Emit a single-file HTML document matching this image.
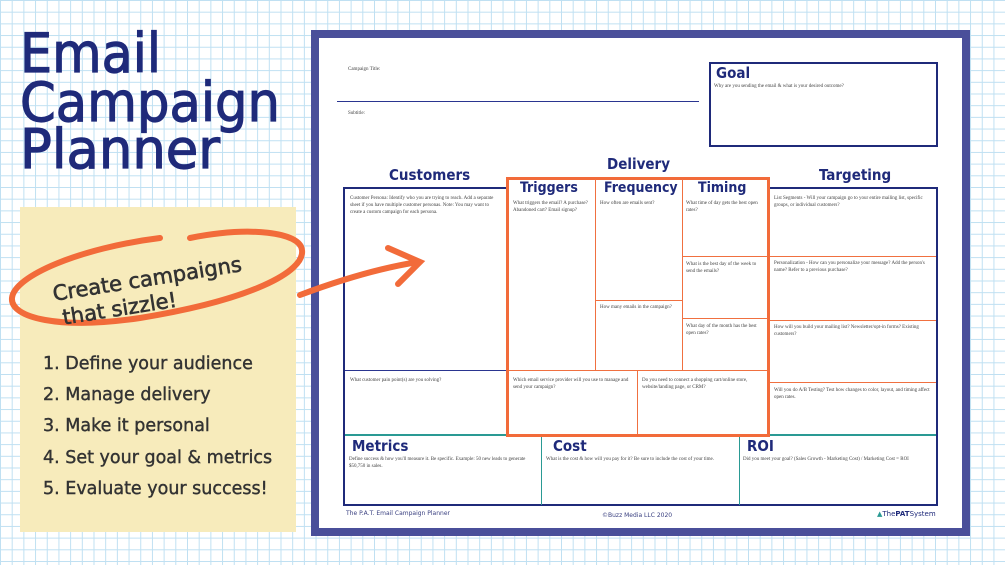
<!DOCTYPE html>
<html><head><meta charset="utf-8"><style>
*{margin:0;padding:0;box-sizing:border-box}
body{width:1005px;height:565px;position:relative;overflow:hidden;font-family:"DejaVu Sans","Liberation Sans",sans-serif;
background-color:#fff;
background-image:linear-gradient(#bfe0f2 1px,transparent 1px),linear-gradient(90deg,#bfe0f2 1px,transparent 1px);
background-size:11.7px 11.7px;}
.a{position:absolute}
.s{position:absolute;font-family:"Liberation Serif",serif;font-size:5px;color:#444;line-height:7px}
.h{position:absolute;font-weight:bold;color:#1f2a7a;font-family:"DejaVu Sans Condensed","DejaVu Sans",sans-serif}
.li{position:absolute;left:43px;font-size:17.5px;color:#333;white-space:nowrap;-webkit-text-stroke:0.4px #333}
</style></head><body>
<svg class="a" style="left:0;top:0" width="300" height="200">
<g fill="#1f2a7a" stroke="#1f2a7a" stroke-width="1.2" font-family="DejaVu Sans,sans-serif" font-size="54">
<text x="20" y="72" textLength="141" lengthAdjust="spacingAndGlyphs">Email</text>
<text x="20" y="121" textLength="260" lengthAdjust="spacingAndGlyphs">Campaign</text>
<text x="20" y="168" textLength="200" lengthAdjust="spacingAndGlyphs">Planner</text>
</g></svg>
<div class="a" style="left:20px;top:207px;width:276px;height:325px;background:#f7ebbb"></div>
<div class="li" style="top:354px">1. Define your audience</div>
<div class="li" style="top:385px">2. Manage delivery</div>
<div class="li" style="top:416px">3. Make it personal</div>
<div class="li" style="top:448px">4. Set your goal &amp; metrics</div>
<div class="li" style="top:479px">5. Evaluate your success!</div>

<div class="a" style="left:311px;top:30px;width:659px;height:506px;border:8px solid #4a4f9a;background:#fff"></div>
<div class="s" style="left:348px;top:66px">Campaign Title:</div>
<div class="a" style="left:337px;top:101px;width:362px;height:1px;background:#2a3590"></div>
<div class="s" style="left:348px;top:110px">Subtitle:</div>
<div class="a" style="left:709px;top:62px;width:229px;height:85px;border:2px solid #1f2a7a"></div>
<div class="h" style="left:716px;top:64px;font-size:15px">Goal</div>
<div class="s" style="left:714px;top:83px">Why are you sending the email &amp; what is your desired outcome?</div>

<div class="h" style="left:389px;top:166px;font-size:15px">Customers</div>
<div class="h" style="left:607px;top:155px;font-size:15px">Delivery</div>
<div class="h" style="left:819px;top:166px;font-size:15px">Targeting</div>

<div class="a" style="left:343px;top:187px;width:595px;height:319px;border:2px solid #1f2a7a"></div>
<div class="a" style="left:345px;top:370px;width:162px;height:1px;background:#2a3590"></div>
<div class="a" style="left:345px;top:434px;width:591px;height:2px;background:#2a9a94"></div>
<div class="a" style="left:541px;top:435px;width:1px;height:70px;background:#2a9a94"></div>
<div class="a" style="left:739px;top:435px;width:1px;height:70px;background:#2a9a94"></div>
<div class="a" style="left:768px;top:256px;width:168px;height:1px;background:#f07040"></div>
<div class="a" style="left:768px;top:320px;width:168px;height:1px;background:#f07040"></div>
<div class="a" style="left:768px;top:382px;width:168px;height:1px;background:#f07040"></div>

<div class="a" style="left:506px;top:177px;width:264px;height:260px;border:3px solid #f26b3a;background:#fff"></div>
<div class="a" style="left:595px;top:179px;width:1px;height:192px;background:#f07040"></div>
<div class="a" style="left:682px;top:179px;width:1px;height:192px;background:#f07040"></div>
<div class="a" style="left:509px;top:370px;width:258px;height:1px;background:#f07040"></div>
<div class="a" style="left:637px;top:370px;width:1px;height:64px;background:#f07040"></div>
<div class="a" style="left:595px;top:300px;width:87px;height:1px;background:#f07040"></div>
<div class="a" style="left:682px;top:256px;width:86px;height:1px;background:#f07040"></div>
<div class="a" style="left:682px;top:318px;width:86px;height:1px;background:#f07040"></div>

<div class="h" style="left:520px;top:180px;font-size:14px">Triggers</div>
<div class="h" style="left:604px;top:180px;font-size:14px">Frequency</div>
<div class="h" style="left:698px;top:180px;font-size:14px">Timing</div>

<div class="s" style="left:350px;top:195px;width:152px">Customer Persona: Identify who you are trying to reach. Add a separate sheet if you have multiple customer personas. Note: You may want to create a custom campaign for each persona.</div>
<div class="s" style="left:350px;top:377px">What customer pain point(s) are you solving?</div>
<div class="s" style="left:513px;top:200px;width:80px">What triggers the email? A purchase? Abandoned cart? Email signup?</div>
<div class="s" style="left:600px;top:200px">How often are emails sent?</div>
<div class="s" style="left:600px;top:304px;width:78px">How many emails in the campaign?</div>
<div class="s" style="left:686px;top:200px;width:78px">What time of day gets the best open rates?</div>
<div class="s" style="left:686px;top:261px;width:78px">What is the best day of the week to send the emails?</div>
<div class="s" style="left:686px;top:323px;width:78px">What day of the month has the best open rates?</div>
<div class="s" style="left:513px;top:377px;width:122px">Which email service provider will you use to manage and send your campaign?</div>
<div class="s" style="left:642px;top:377px;width:124px">Do you need to connect a shopping cart/online store, website/landing page, or CRM?</div>
<div class="s" style="left:774px;top:195px;width:160px">List Segments - Will your campaign go to your entire mailing list, specific groups, or individual customers?</div>
<div class="s" style="left:774px;top:260px;width:160px">Personalization - How can you personalize your message? Add the person's name? Refer to a previous purchase?</div>
<div class="s" style="left:774px;top:324px;width:160px">How will you build your mailing list? Newsletter/opt-in forms? Existing customers?</div>
<div class="s" style="left:774px;top:387px;width:160px">Will you do A/B Testing? Test how changes to color, layout, and timing affect open rates.</div>

<div class="h" style="left:352px;top:437px;font-size:15px">Metrics</div>
<div class="h" style="left:553px;top:437px;font-size:15px">Cost</div>
<div class="h" style="left:747px;top:437px;font-size:15px">ROI</div>
<div class="s" style="left:349px;top:456px;width:188px">Define success &amp; how you'll measure it. Be specific. Example: 50 new leads to generate $50,750 in sales.</div>
<div class="s" style="left:546px;top:456px">What is the cost &amp; how will you pay for it? Be sure to include the cost of your time.</div>
<div class="s" style="left:743px;top:456px">Did you meet your goal? (Sales Growth - Marketing Cost) / Marketing Cost = ROI</div>

<div class="a" style="left:346px;top:510px;font-size:6px;color:#3a4080">The P.A.T. Email Campaign Planner</div>
<div class="a" style="left:602px;top:512px;font-size:6px;color:#3a4080">©Buzz Media LLC 2020</div>
<div class="a" style="left:877px;top:510px;font-size:7px;color:#1f2a7a"><span style="color:#2a9a94">▲</span>The<b>PAT</b>System</div>

<svg class="a" style="left:0;top:0" width="1005" height="565">
<g fill="none" stroke="#f26b3a" stroke-linecap="round">
<path d="M190 238 C250 226 300 232 302 250 C305 272 250 300 140 318 C60 330 10 318 12 298 C14 276 80 248 160 238" stroke-width="6"/>
<path d="M300 295 C340 280 380 268 418 262" stroke-width="6"/>
<path d="M388 248 L420 262 L398 284" stroke-width="6"/>
</g>
<g fill="#333" stroke="#333" stroke-width="0.6" font-family="DejaVu Sans,sans-serif" font-size="21" transform="rotate(-9 160 280)">
<text x="52" y="284">Create campaigns</text>
<text x="58" y="309">that sizzle!</text>
</g>
</svg>
</body></html>
